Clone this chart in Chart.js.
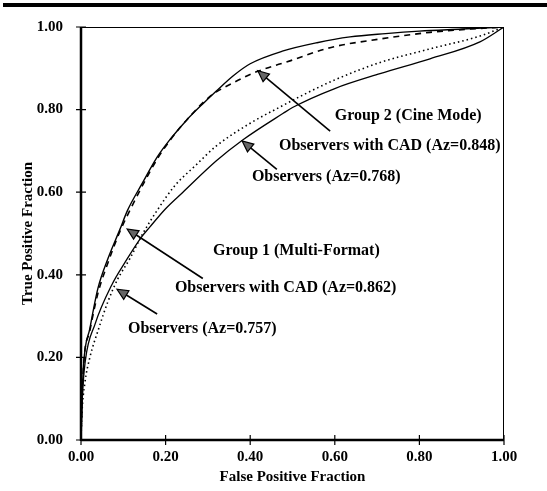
<!DOCTYPE html>
<html lang="en">
<head>
    <meta charset="UTF-8" />
    <title>ROC curves - CAD study</title>
    <script src="https://cdn.jsdelivr.net/npm/chart.js"></script>
    <style>
        html, body { margin: 0; padding: 0; background: #fff; }
        #wrap { width: 547px; height: 491px; }
    </style>
</head>
<body>
    <div id="wrap"><canvas id="rocChart" width="547" height="491"></canvas></div>

    <script>
        // ROC curves (FPF, TPF)
        const g1CadX = [0, 0.002, 0.006, 0.021, 0.04, 0.064, 0.092, 0.11, 0.144, 0.18, 0.21, 0.25, 0.289, 0.32, 0.36, 0.40, 0.478, 0.558, 0.636, 0.72, 0.80, 0.90, 1.0];
        const g1CadY = [0, 0.08, 0.18, 0.27, 0.367, 0.44, 0.51, 0.556, 0.62, 0.685, 0.727, 0.775, 0.815, 0.845, 0.882, 0.911, 0.942, 0.962, 0.976, 0.984, 0.990, 0.995, 1.0];

        const g2CadX = [0, 0.002, 0.006, 0.021, 0.04, 0.064, 0.092, 0.12, 0.15, 0.18, 0.21, 0.25, 0.305, 0.36, 0.416, 0.494, 0.589, 0.707, 0.825, 0.92, 1.0];
        const g2CadY = [0, 0.08, 0.18, 0.265, 0.355, 0.43, 0.505, 0.565, 0.625, 0.68, 0.725, 0.775, 0.832, 0.865, 0.892, 0.918, 0.950, 0.971, 0.987, 0.995, 1.0];

        const obsDotX = [0, 0.002, 0.009, 0.021, 0.04, 0.064, 0.087, 0.116, 0.144, 0.182, 0.222, 0.27, 0.32, 0.40, 0.47, 0.53, 0.60, 0.707, 0.825, 0.943, 1.0];
        const obsDotY = [0, 0.06, 0.137, 0.20, 0.264, 0.336, 0.39, 0.44, 0.496, 0.559, 0.616, 0.664, 0.712, 0.767, 0.806, 0.838, 0.872, 0.914, 0.947, 0.978, 1.0];

        const obsSolidX = [0, 0.003, 0.01, 0.033, 0.073, 0.104, 0.142, 0.163, 0.20, 0.241, 0.32, 0.383, 0.478, 0.50, 0.60, 0.707, 0.825, 0.943, 1.0];
        const obsSolidY = [0, 0.10, 0.19, 0.28, 0.376, 0.43, 0.49, 0.516, 0.56, 0.60, 0.676, 0.727, 0.791, 0.805, 0.851, 0.887, 0.923, 0.964, 1.0];

        const tickValues = [0, 0.2, 0.4, 0.6, 0.8, 1.0];

        // annotation texts, anchored at their left edge (data units)
        const noteText = ['Group 2 (Cine Mode)', 'Observers with CAD (Az=0.848)', 'Observers (Az=0.768)',
                          'Group 1 (Multi-Format)', 'Observers with CAD (Az=0.862)', 'Observers (Az=0.757)'];
        const noteX = [0.60, 0.468, 0.404, 0.312, 0.222, 0.111];
        const noteY = [0.785, 0.712, 0.636, 0.457, 0.369, 0.27];

        // arrows: tail -> head (data units)
        const arrowTailX = [0.589, 0.463, 0.288, 0.18];
        const arrowTailY = [0.748, 0.655, 0.391, 0.305];
        const arrowHeadX = [0.418, 0.381, 0.109, 0.085];
        const arrowHeadY = [0.894, 0.724, 0.511, 0.365];

        const pts = (xs, ys) => xs.map((x, i) => ({ x: x, y: ys[i] }));
        const serif = '"Liberation Serif", "Times New Roman", serif';

        const decorPlugin = {
            id: 'decor',
            afterDatasetsDraw(chart) {
                const { ctx, chartArea: a, scales: { x, y } } = chart;
                ctx.save();
                ctx.fillStyle = '#000';
                ctx.strokeStyle = '#000';

                // heavy rule across the top of the figure
                ctx.fillRect(3, 3, 544, 4);

                // frame
                ctx.lineWidth = 1;
                ctx.beginPath();
                ctx.moveTo(a.left, a.top + 0.5); ctx.lineTo(a.right, a.top + 0.5);
                ctx.moveTo(a.right - 0.5, a.top); ctx.lineTo(a.right - 0.5, a.bottom);
                ctx.stroke();
                ctx.lineWidth = 2.5;
                ctx.beginPath();
                ctx.moveTo(a.left, a.top); ctx.lineTo(a.left, a.bottom + 1);
                ctx.moveTo(a.left, a.bottom); ctx.lineTo(a.right, a.bottom);
                ctx.stroke();

                // ticks crossing the axes
                ctx.lineWidth = 1.2;
                ctx.beginPath();
                tickValues.forEach(v => {
                    const py = y.getPixelForValue(v);
                    ctx.moveTo(a.left - 5, py); ctx.lineTo(a.left + 5, py);
                    const px = x.getPixelForValue(v);
                    ctx.moveTo(px, a.bottom - 5); ctx.lineTo(px, a.bottom + 5);
                });
                ctx.stroke();

                // arrows
                ctx.lineWidth = 1.6;
                arrowTailX.forEach((tx, i) => {
                    const x0 = x.getPixelForValue(tx), y0 = y.getPixelForValue(arrowTailY[i]);
                    const x1 = x.getPixelForValue(arrowHeadX[i]), y1 = y.getPixelForValue(arrowHeadY[i]);
                    const ang = Math.atan2(y1 - y0, x1 - x0);
                    const len = 11, half = 5;
                    const bx = x1 - len * Math.cos(ang), by = y1 - len * Math.sin(ang);
                    ctx.beginPath();
                    ctx.moveTo(x0, y0); ctx.lineTo(bx, by);
                    ctx.stroke();
                    ctx.beginPath();
                    ctx.moveTo(x1, y1);
                    ctx.lineTo(bx + half * Math.sin(ang), by - half * Math.cos(ang));
                    ctx.lineTo(bx - half * Math.sin(ang), by + half * Math.cos(ang));
                    ctx.closePath();
                    ctx.fillStyle = '#666';
                    ctx.fill();
                    ctx.lineWidth = 1.2;
                    ctx.stroke();
                    ctx.lineWidth = 1.6;
                });

                // notes
                ctx.fillStyle = '#000';
                ctx.font = 'bold 16px ' + serif;
                ctx.textAlign = 'left';
                ctx.textBaseline = 'middle';
                noteText.forEach((t, i) => {
                    ctx.fillText(t, x.getPixelForValue(noteX[i]), y.getPixelForValue(noteY[i]));
                });
                ctx.restore();
            }
        };

        const lineSet = (label, data, dash, width) => ({
            label: label,
            data: data,
            borderColor: '#000',
            borderWidth: width,
            borderDash: dash,
            pointRadius: 0,
            showLine: true,
            fill: false,
            cubicInterpolationMode: 'monotone'
        });

        new Chart(document.getElementById('rocChart'), {
            type: 'scatter',
            data: {
                datasets: [
                    lineSet('Group 1 Observers with CAD', pts(g1CadX, g1CadY), [], 1.4),
                    lineSet('Group 2 Observers with CAD', pts(g2CadX, g2CadY), [6, 5], 1.6),
                    lineSet('Observers (dotted)', pts(obsDotX, obsDotY), [1.5, 3], 1.6),
                    lineSet('Observers (solid)', pts(obsSolidX, obsSolidY), [], 1.3)
                ]
            },
            options: {
                responsive: false,
                animation: false,
                layout: { padding: { left: 19, top: 23, right: 43, bottom: 5 } },
                plugins: { legend: { display: false }, tooltip: { enabled: false } },
                scales: {
                    x: {
                        type: 'linear', min: 0, max: 1,
                        afterFit: s => { s.height = 46; },
                        border: { display: false },
                        grid: { display: false, drawTicks: false },
                        ticks: {
                            stepSize: 0.2, padding: 8, color: '#000',
                            font: { family: serif, size: 15, weight: 'bold' },
                            callback: v => v.toFixed(2)
                        },
                        title: {
                            display: true, text: 'False Positive Fraction', color: '#000',
                            font: { family: serif, size: 15, weight: 'bold' },
                            padding: { top: 0, bottom: 0 }
                        }
                    },
                    y: {
                        type: 'linear', min: 0, max: 1,
                        afterFit: s => { s.width = 62; },
                        border: { display: false },
                        grid: { display: false, drawTicks: false },
                        ticks: {
                            stepSize: 0.2, padding: 18, color: '#000',
                            font: { family: serif, size: 15, weight: 'bold' },
                            callback: v => v.toFixed(2)
                        },
                        title: {
                            display: true, text: 'True Positive Fraction', color: '#000',
                            font: { family: serif, size: 15, weight: 'bold' },
                            padding: { top: 0, bottom: 0 }
                        }
                    }
                }
            },
            plugins: [decorPlugin]
        });
    </script>
</body>
</html>
